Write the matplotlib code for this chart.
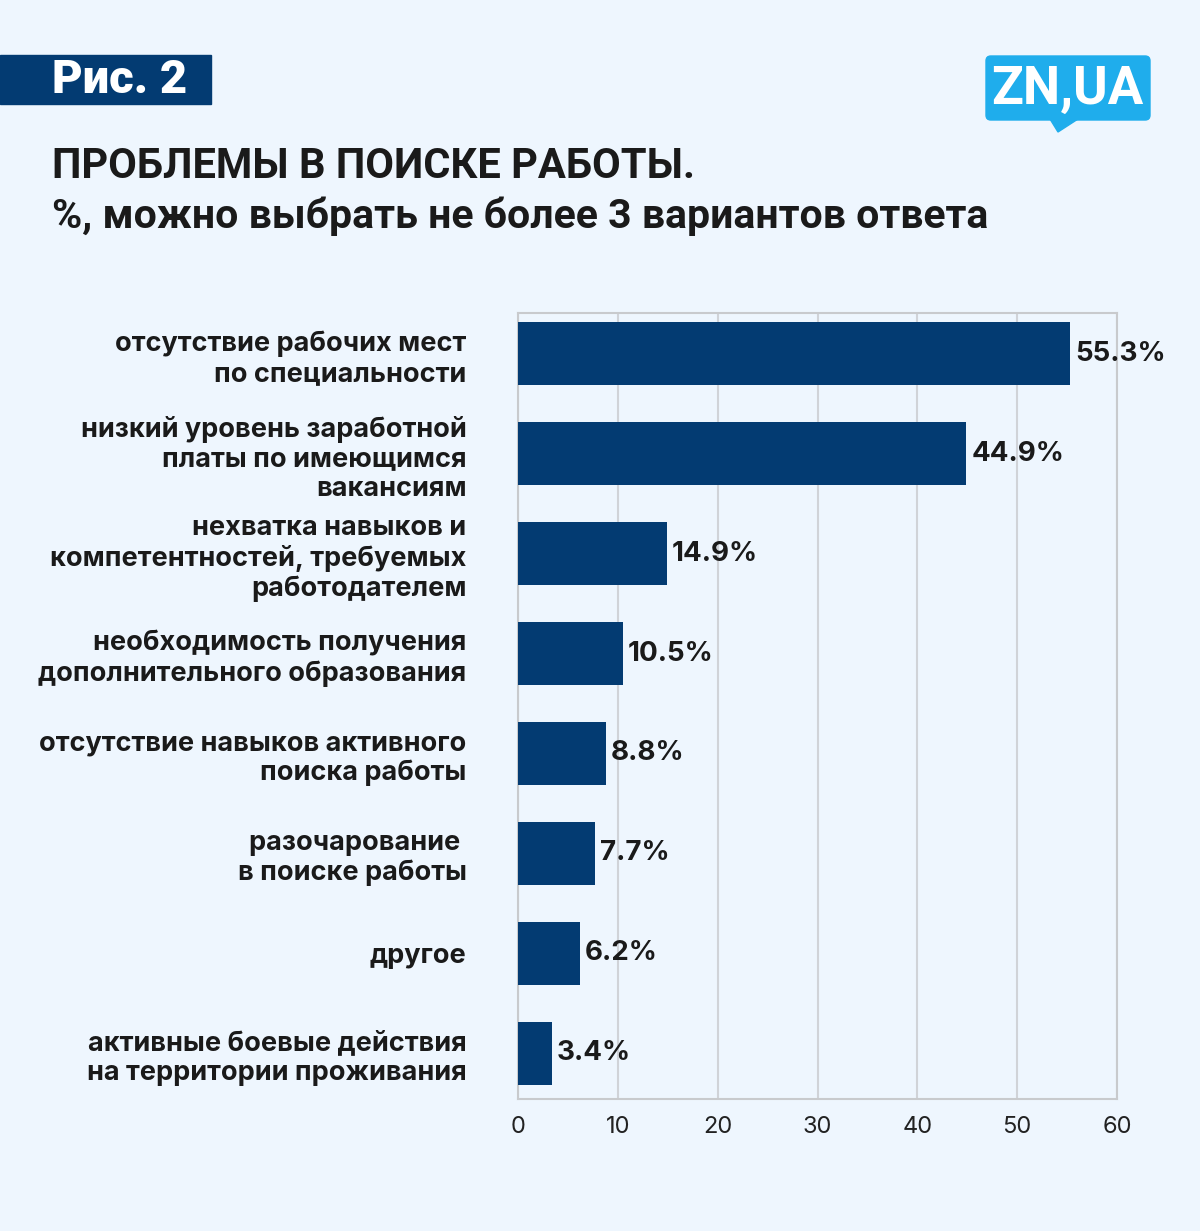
import matplotlib.pyplot as plt
from matplotlib.patches import FancyBboxPatch, Polygon, Rectangle

categories = [
    "отсутствие рабочих мест\nпо специальности",
    "низкий уровень заработной\nплаты по имеющимся\nвакансиям",
    "нехватка навыков и\nкомпетентностей, требуемых\nработодателем",
    "необходимость получения\nдополнительного образования",
    "отсутствие навыков активного\nпоиска работы",
    "разочарование \nв поиске работы",
    "другое",
    "активные боевые действия\nна территории проживания",
]
values = [55.3, 44.9, 14.9, 10.5, 8.8, 7.7, 6.2, 3.4]
xticks = [0, 10, 20, 30, 40, 50, 60]

bg = "#eef6fe"
bar_color = "#033b72"
text_color = "#1a1a1a"

W, H = 1200, 1231
fig = plt.figure(figsize=(W / 100, H / 100), dpi=100, facecolor=bg)

# axes placed in pixel terms of the reference
left, right, top, bottom = 518, 1117, 313, 1099
ax = fig.add_axes([left / W, 1 - bottom / H, (right - left) / W, (bottom - top) / H])
ax.set_facecolor(bg)

ypos = list(range(len(values)))
ax.barh(ypos, values, height=0.63, color=bar_color, zorder=3)
ax.set_ylim(len(values) - 1 + 0.46, -0.41)
ax.set_xlim(0, 60)
ax.set_xticks(xticks)
ax.set_xticklabels([str(t) for t in xticks], fontsize=17, color="#222222", family="Inter")
ax.tick_params(axis="x", length=0, pad=12)
ax.set_yticks(ypos)
ax.set_yticklabels(categories, fontsize=19.5, color=text_color, family="Inter",
                   fontweight="bold", linespacing=1.18)
for lbl in ax.get_yticklabels():
    lbl.set_horizontalalignment("right")
ax.tick_params(axis="y", length=0, pad=37)
ax.grid(axis="x", color="#d0d3d8", linewidth=1.5, zorder=0)
for s in ax.spines.values():
    s.set_color("#c8cacd")
    s.set_linewidth(1.5)

for y, v in zip(ypos, values):
    ax.text(v + 0.5, y, f"{v}%", va="center", ha="left", fontsize=20,
            fontweight="bold", family="Inter", color=text_color, zorder=4)

# "Рис. 2" tag
fig.patches.append(Rectangle((0, 1 - 104 / H), 211 / W, 49 / H, transform=fig.transFigure,
                             color=bar_color, zorder=1))
fig.text(52 / W, 1 - 80 / H, "Рис. 2", color="white", fontsize=34, fontweight="heavy",
         family="Roboto", va="center", ha="left")

# title
fig.text(52 / W, 1 - 167 / H, "ПРОБЛЕМЫ В ПОИСКЕ РАБОТЫ.", color=text_color, fontsize=30,
         fontweight="bold", family="Roboto", va="center", ha="left")
fig.text(52 / W, 1 - 216 / H, "%, можно выбрать не более 3 вариантов ответа", color=text_color,
         fontsize=29.5, fontweight="semibold", family="Roboto", va="center", ha="left")

# logo
logo_blue = "#1fadec"
fig.patches.append(FancyBboxPatch((986 / W, 1 - 120 / H), 164 / W, 64 / H,
                                  boxstyle="round,pad=0,rounding_size=0.004",
                                  transform=fig.transFigure, color=logo_blue, zorder=1))
fig.patches.append(Polygon([(1050 / W, 1 - 119 / H), (1078 / W, 1 - 119 / H), (1058 / W, 1 - 132 / H)],
                           closed=True, transform=fig.transFigure, color=logo_blue, zorder=1))
fig.text(1067 / W, 1 - 89 / H, "ZN,UA", color="white", fontsize=38, fontweight="bold",
         family="Roboto", va="center", ha="center")

fig.savefig("out.png", dpi=100, facecolor=bg)
